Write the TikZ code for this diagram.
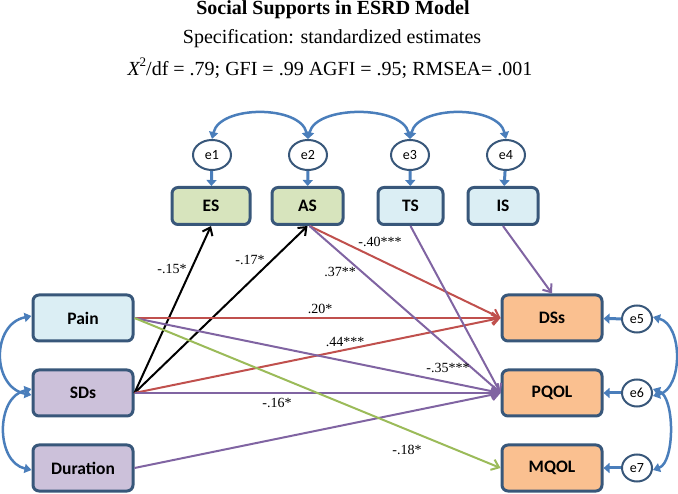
\documentclass[tikz,border=0pt]{standalone}
\usepackage{fontspec}
\setmainfont{Liberation Serif}
\newfontfamily\calibri{Carlito}
\usetikzlibrary{arrows.meta,shapes.geometric}
\definecolor{bd}{RGB}{56,87,122}
\definecolor{fgreen}{RGB}{215,228,189}
\definecolor{fblue}{RGB}{219,238,244}
\definecolor{flav}{RGB}{204,193,218}
\definecolor{forange}{RGB}{250,192,144}
\definecolor{cblue}{RGB}{74,126,187}
\definecolor{cred}{RGB}{192,80,77}
\definecolor{cpurple}{RGB}{128,100,162}
\definecolor{cgreen}{RGB}{155,187,89}
\begin{document}
\begin{tikzpicture}[x=1pt,y=-1pt,
  box/.style={draw=bd,line width=3pt,rounded corners=6pt,inner sep=0pt,
    font=\calibri\bfseries\fontsize{17.5}{17.5}\selectfont},
  topbox/.style={box,minimum height=37pt},
  sidebox/.style={box,minimum width=100pt,minimum height=46pt},
  err/.style={draw=bd,line width=2pt,ellipse,fill=white,inner sep=0pt,
    font=\calibri\fontsize{14}{14}\selectfont},
  toperr/.style={err,minimum width=38pt,minimum height=30pt},
  righterr/.style={err,minimum width=30pt,minimum height=27pt},
  earrow/.style={draw=cblue,line width=3pt,-{Triangle[length=6pt,width=10pt]}},
  cov/.style={draw=cblue,line width=2.5pt,{Triangle[length=7pt,width=9pt]}-{Triangle[length=7pt,width=9pt]}},
  path/.style={line width=2pt,-{Straight Barb[length=7pt,width=11pt]}},
  lbl/.style={font=\fontsize{14}{14}\selectfont,inner sep=0pt},
  ttl/.style={font=\fontsize{20}{20}\selectfont,anchor=base,inner sep=0pt}
]
\useasboundingbox (0,0) rectangle (678,494);
% titles
\node[ttl,font=\bfseries\fontsize{20}{20}\selectfont] (t1) at (333,14.5) {Social Supports in ESRD Model};
\node[ttl] (t2) at (332,44) {Specification: standardized estimates};
\node[ttl] (t3) at (330,76) {{\itshape X}\raisebox{0.45em}{\fontsize{13}{13}\selectfont 2}/df = .79; GFI = .99 AGFI = .95; RMSEA= .001};
% top errors and boxes
\node[toperr] (e1) at (212,155) {e1};
\node[toperr] (e2) at (308,155) {e2};
\node[toperr] (e3) at (410,155) {e3};
\node[toperr] (e4) at (506,155) {e4};
\node[topbox,fill=fgreen,minimum width=78pt] (ES) at (211,206) {ES};
\node[topbox,fill=fgreen,minimum width=71pt] (AS) at (307.5,206) {AS};
\node[topbox,fill=fblue,minimum width=65pt] (TS) at (410.5,206) {TS};
\node[topbox,fill=fblue,minimum width=70pt] (IS) at (503,206) {IS};
% left boxes
\node[sidebox,fill=fblue] (Pain) at (83,318) {Pain};
\node[sidebox,fill=flav] (SDs) at (83,393) {SDs};
\node[sidebox,fill=flav] (Dur) at (83,468) {Duration};
% right boxes
\node[sidebox,fill=forange] (DSs) at (552,318) {DSs};
\node[sidebox,fill=forange] (PQOL) at (552,393) {PQOL};
\node[sidebox,fill=forange] (MQOL) at (552,468) {MQOL};
\node[righterr] (e5) at (637,319) {e5};
\node[righterr] (e6) at (637,393) {e6};
\node[righterr] (e7) at (637,468) {e7};
% error arrows
\draw[earrow] (e1) -- (ES);
\draw[earrow] (e2) -- (AS);
\draw[earrow] (e3) -- (TS);
\draw[earrow] (e4) -- (IS);
\draw[earrow] (e5) -- (DSs);
\draw[earrow] (e6) -- (PQOL);
\draw[earrow] (e7) -- (MQOL);
% covariances
\draw[cov] (e1.north) .. controls +(8,-34) and +(-8,-34) .. (e2.north);
\draw[cov] (e2.north) .. controls +(8,-34) and +(-8,-34) .. (e3.north);
\draw[cov] (e3.north) .. controls +(8,-34) and +(-8,-34) .. (e4.north);
\draw[cov] ([yshift=2pt]Pain.west) .. controls +(-40,8) and +(-40,-8) .. ([yshift=-2pt]SDs.west);
\draw[cov] ([yshift=4pt]SDs.west) .. controls +(-36,8) and +(-36,-8) .. ([yshift=-2pt]Dur.west);
\draw[cov] ([yshift=2pt]e5.east) .. controls +(30,8) and +(30,-8) .. ([yshift=-3pt]e6.east);
\draw[cov] ([yshift=4pt]e6.east) .. controls +(22,8) and +(22,-8) .. ([yshift=-2pt]e7.east);
% paths
\draw[path,black] (SDs.east) -- (ES.south);
\draw[path,black] (SDs.east) -- (AS.south);
\draw[path,cred] ([xshift=2pt]AS.south) -- (DSs.west);
\draw[path,cred] (Pain.east) -- (DSs.west);
\draw[path,cred] (SDs.east) -- (DSs.west);
\draw[path,cpurple] ([xshift=2pt]AS.south) -- (PQOL.west);
\draw[path,cpurple] (TS.south) -- (PQOL.west);
\draw[path,cpurple] (IS.south) -- (DSs.north);
\draw[path,cpurple] (Pain.east) -- (PQOL.west);
\draw[path,cpurple] (SDs.east) -- (PQOL.west);
\draw[path,cpurple] (Dur.east) -- (PQOL.west);
\draw[path,cgreen] (Pain.east) -- (MQOL.west);
% labels
\node[lbl] (l1) at (172,269) {-.15*};
\node[lbl] (l2) at (250,260) {-.17*};
\node[lbl] (l3) at (380,242) {-.40***};
\node[lbl] (l4) at (340,272) {.37**};
\node[lbl] (l5) at (320,309) {.20*};
\node[lbl] (l6) at (345,342) {.44***};
\node[lbl] (l7) at (448,368) {-.35***};
\node[lbl] (l8) at (277,403) {-.16*};
\node[lbl] (l9) at (407,450) {-.18*};
\end{tikzpicture}
\end{document}
